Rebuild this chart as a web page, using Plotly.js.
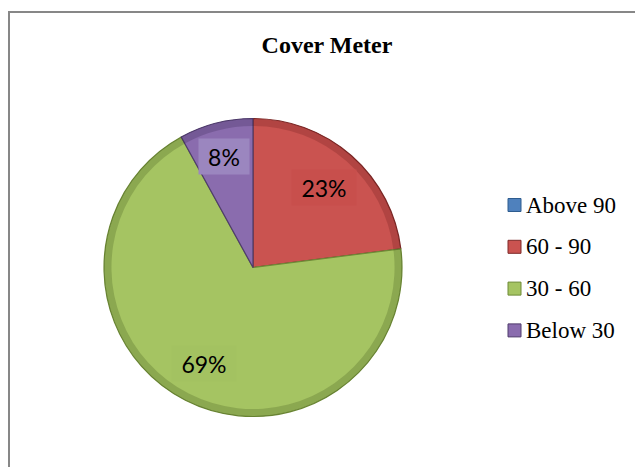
<!DOCTYPE html>
<html>
<head>
<meta charset="utf-8">
<script src="https://cdn.plot.ly/plotly-3.0.1.min.js"></script>
<style>
  html, body { margin: 0; padding: 0; background: #ffffff; }
  #chart { width: 635px; height: 467px; }
</style>
</head>
<body>
<div id="chart"></div>
<script>
// Cover meter readings, share of points per range
const categories = ['Above 90', '60 - 90', '30 - 60', 'Below 30'];
const shares = [0, 23, 69, 8];

// Slice styling
const sliceColors = ['#4F81BD', '#CA5350', '#A5C462', '#8A6CAE'];
const edgeColors  = ['#2E5C8F', '#7E2A28', '#6E8A37', '#4F3C6C'];
const rimColors   = ['rgba(30,50,90,0.25)', 'rgba(90,20,20,0.22)', 'rgba(50,70,20,0.22)', 'rgba(40,25,70,0.22)'];
const labelFills  = ['#5B8CC6', '#C84F4C', '#A3C261', '#9B86BF'];
const labelRadius = [0.72, 0.72, 0.72, 0.77];

const W = 635, H = 467;
const pieDomain = { x: [104 / W, 402 / W], y: [1 - 416.5 / H, 1 - 118.5 / H] };

// Pie geometry as plotly lays it out (margins are zero, so paper == pixels)
const boxW = W * (pieDomain.x[1] - pieDomain.x[0]);
const boxH = H * (pieDomain.y[1] - pieDomain.y[0]);
const R = Math.min(boxW, boxH) / 2;
const cx = W * (pieDomain.x[0] + pieDomain.x[1]) / 2;
const cy = H * (1 - (pieDomain.y[0] + pieDomain.y[1]) / 2);

const total = shares.reduce((a, b) => a + b, 0);
const annotations = [];
let cum = 0;
shares.forEach((v, i) => {
  const start = cum;
  cum += v;
  if (v <= 0) return;
  const mid = ((start + v / 2) / total) * 2 * Math.PI; // clockwise from 12 o'clock
  const lx = cx + labelRadius[i] * R * Math.sin(mid);
  const ly = cy - labelRadius[i] * R * Math.cos(mid);
  const txt = Math.round(v / total * 100) + '%';
  annotations.push({
    xref: 'paper', yref: 'paper',
    x: lx / W, y: 1 - ly / H,
    xanchor: 'center', yanchor: 'middle',
    text: txt, showarrow: false,
    font: { family: 'Lato, "Open Sans", sans-serif', size: 23, color: '#000000' },
    bgcolor: labelFills[i],
    width: 20 + 14 * txt.length, height: 33
  });
});

// Legend drawn as swatches + labels
const legendX = 508, legendTop = 205, legendStep = 41.8, sw = 13;
const shapes = [
  // chart frame
  { type: 'line', xref: 'paper', yref: 'paper', x0: 8.5 / W, x1: 1, y0: 1 - 12 / H, y1: 1 - 12 / H,
    line: { color: '#878787', width: 2 } },
  { type: 'line', xref: 'paper', yref: 'paper', x0: 9 / W, x1: 9 / W, y0: 0, y1: 1 - 11 / H,
    line: { color: '#878787', width: 2 } }
];
categories.forEach((c, i) => {
  const yc = legendTop + i * legendStep;
  shapes.push({
    type: 'rect', xref: 'paper', yref: 'paper',
    x0: legendX / W, x1: (legendX + sw) / W,
    y0: 1 - (yc + sw / 2) / H, y1: 1 - (yc - sw / 2) / H,
    fillcolor: sliceColors[i], line: { color: edgeColors[i], width: 1 }
  });
  annotations.push({
    xref: 'paper', yref: 'paper',
    x: (legendX + sw + 3) / W, y: 1 - yc / H,
    xanchor: 'left', yanchor: 'middle',
    text: c, showarrow: false,
    font: { family: '"Liberation Serif", "Times New Roman", serif', size: 23, color: '#000000' }
  });
});

const pie = {
  type: 'pie',
  labels: categories,
  values: shares,
  sort: false,
  direction: 'clockwise',
  rotation: 0,
  domain: pieDomain,
  textinfo: 'none',
  hoverinfo: 'label+percent',
  showlegend: false,
  marker: { colors: sliceColors, line: { color: edgeColors, width: 1.2 } }
};

// Shaded rim along the outer edge of each slice
const rim = {
  type: 'pie',
  labels: categories,
  values: shares,
  sort: false,
  direction: 'clockwise',
  rotation: 0,
  domain: pieDomain,
  hole: 0.95,
  textinfo: 'none',
  hoverinfo: 'skip',
  showlegend: false,
  marker: { colors: rimColors, line: { width: 0 } }
};

const layout = {
  width: W, height: H,
  margin: { l: 0, r: 0, t: 0, b: 0 },
  paper_bgcolor: '#ffffff',
  showlegend: false,
  title: {
    text: '<b>Cover Meter</b>',
    font: { family: '"Liberation Serif", "Times New Roman", serif', size: 24, color: '#000000' },
    x: 327 / W, xanchor: 'center',
    y: 1 - 45 / H, yanchor: 'middle'
  },
  shapes: shapes,
  annotations: annotations
};

Plotly.newPlot('chart', [pie, rim], layout, { staticPlot: true, displayModeBar: false });
</script>
</body>
</html>
